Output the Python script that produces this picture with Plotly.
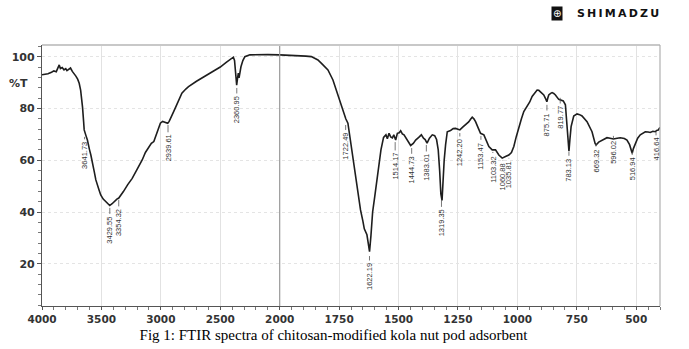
import numpy as np
import plotly.graph_objects as go

# ---------------- data ----------------
wavenumber = [4000, 3950, 3920, 3900, 3880, 3865, 3855, 3845, 3830, 3815, 3800, 3790, 3775, 3760, 3745,
              3730, 3715, 3700, 3687, 3675, 3665, 3659, 3650, 3645, 3630, 3618, 3600, 3589, 3560,
              3547, 3520, 3506, 3485, 3464, 3445, 3430, 3410, 3394, 3370, 3354, 3335, 3315, 3280,
              3241, 3200, 3157, 3130, 3101, 3080, 3059, 3030, 3004, 2985, 2965, 2942, 2930, 2920,
              2900, 2879, 2850, 2823, 2790, 2767, 2700, 2655, 2600, 2544, 2500, 2450, 2404, 2390,
              2380, 2370, 2362, 2355, 2348, 2342, 2336, 2326, 2310, 2293, 2251, 2200, 2100, 2000,
              1950, 1909, 1890, 1867, 1850, 1839, 1820, 1797, 1776, 1765, 1755, 1745, 1734, 1722,
              1713, 1708, 1700, 1685, 1679, 1671, 1660, 1650, 1644, 1633, 1628, 1622, 1616, 1609,
              1600, 1588, 1581, 1574, 1563, 1553, 1547, 1540, 1533, 1526, 1520, 1512, 1505,
              1497, 1491, 1484, 1477, 1465, 1449, 1438, 1428, 1415, 1404, 1395, 1388, 1380, 1370,
              1358, 1348, 1340, 1333, 1327, 1322, 1317, 1313, 1308, 1302, 1295, 1281, 1270, 1260,
              1248, 1242, 1230, 1218, 1205, 1197, 1190, 1183, 1176, 1165, 1155, 1141, 1130, 1120,
              1106, 1092, 1078, 1064, 1050, 1036, 1025, 1015, 1005, 994, 983, 973, 959, 948, 938,
              927, 917, 910, 903, 889, 880, 876, 872, 868, 860, 854, 847, 840, 826, 815, 807, 798,
              791, 786, 783, 779, 774, 763, 749, 738, 728, 707, 686, 673, 669, 658, 644, 623, 610,
              596, 580, 567, 550, 539, 528, 520, 517, 512, 504, 494, 483, 462, 450, 441, 430, 420,
              412, 407, 403, 400]
transmittance = [93.0, 93.4, 94.0, 94.5, 94.2, 95.6, 96.8, 95.4, 95.8, 94.9, 95.4, 94.6, 95.2, 95.6, 94.3,
                 93.6, 92.5, 91.3, 89.7, 87.1, 84.0, 80.5, 75.0, 71.7, 69.5, 67.8, 64.0, 62.0, 55.5,
                 52.4, 48.5, 46.6, 45.0, 44.0, 43.0, 42.5, 43.2, 44.0, 45.0, 45.4, 46.5, 47.9, 50.5,
                 53.0, 56.5, 60.1, 63.0, 65.3, 66.5, 67.2, 71.0, 74.3, 75.0, 74.8, 74.3, 75.0, 76.2,
                 78.0, 80.1, 83.5, 85.9, 87.5, 88.4, 90.5, 91.7, 93.2, 94.6, 96.0, 97.8, 99.4, 99.8,
                 98.5, 93.0, 89.0, 91.5, 93.6, 91.8, 93.5, 96.1, 98.5, 100.0, 100.7, 100.8, 100.8, 100.7,
                 100.6, 100.4, 100.2, 100.0, 99.4, 98.7, 97.0, 94.9, 91.0, 88.0, 84.6, 82.0, 79.4, 76.0,
                 74.3, 71.0, 66.6, 57.5, 53.0, 48.5, 40.8, 36.5, 33.5, 31.2, 28.0, 24.7, 31.0, 40.0,
                 46.0, 53.7, 58.0, 64.0, 68.8, 69.8, 68.3, 70.4, 69.0, 68.6, 69.8, 67.8, 70.4,
                 70.6, 71.4, 70.2, 69.8, 68.0, 65.7, 66.5, 67.8, 68.8, 69.8, 68.5, 68.0, 66.6, 68.5,
                 69.8, 69.5, 68.0, 64.0, 56.0, 47.0, 44.5, 52.0, 60.0, 66.0, 71.0, 71.5, 72.2, 72.3,
                 72.0, 71.7, 72.8, 73.6, 74.8, 75.8, 76.6, 76.0, 74.9, 72.5, 70.4, 69.8, 67.5, 65.3,
                 64.0, 64.0, 62.0, 60.8, 61.4, 62.0, 63.0, 65.3, 69.0, 73.0, 76.0, 78.8, 80.7, 82.5, 84.6,
                 86.0, 87.1, 87.0, 86.5, 85.2, 83.5, 82.6, 84.0, 85.2, 85.8, 86.1, 85.8, 85.2, 83.5, 83.0, 82.9, 81.4,
                 73.0, 67.0, 63.5, 68.0, 73.0, 77.1, 77.9, 77.6, 77.1, 74.9, 71.0, 66.5, 65.9, 67.0, 67.8, 68.7, 68.5,
                 68.2, 68.5, 68.7, 68.4, 67.8, 66.0, 63.0, 62.7, 64.5, 66.6, 68.5, 69.8, 71.0, 70.9, 70.7, 71.2, 71.0,
                 71.6, 71.7, 72.3, 72.7]

peak_labels = ["3641.73", "3429.55", "3354.32", "2939.61", "2360.95", "1722.49", "1622.19",
               "1514.17", "1444.73", "1383.01", "1319.35", "1242.20", "1153.47", "1103.32",
               "1060.88", "1035.81", "875.71", "819.77", "783.13", "669.32", "596.02",
               "516.94", "416.64"]

x_tick_labels = ["4000", "3500", "3000", "2500", "2000", "1750", "1500", "1250", "1000", "750", "500"]
y_tick_values = [20, 40, 60, 80, 100]

# label placement (layout only): text centre and leader top, in %T
label_text_y = [61.9, 33.1, 36.0, 64.6, 79.6, 65.5, 15.1, 57.6, 56.3, 57.2, 35.8, 63.0, 61.7,
                56.6, 53.7, 54.5, 73.8, 76.5, 56.3, 59.9, 63.0, 56.6, 64.2]
label_lead_top = [69.0, 41.6, 44.7, 73.6, 87.9, 73.6, 23.0, 67.0, 64.7, 65.9, 44.7, 70.5, 69.4,
                  63.2, 60.1, 60.9, 81.4, 84.1, 63.2, 66.3, 69.4, 63.2, 70.9]


def to_axis(w):
    """Shimadzu split scale: 4000-2000 compressed 2x relative to 2000-400."""
    w = np.asarray(w, dtype=float)
    return np.where(w > 2000, 2000 + (w - 2000) / 2.0, w)


xu = to_axis(wavenumber)
tickvals = to_axis([float(t) for t in x_tick_labels])

fig = go.Figure()
fig.add_trace(go.Scatter(x=xu, y=transmittance, mode="lines",
                         line=dict(color="#1e1e1e", width=1.6), hoverinfo="skip",
                         showlegend=False))

anns = []
for lab, ty, ly in zip(peak_labels, label_text_y, label_lead_top):
    u = float(to_axis(float(lab)))
    anns.append(dict(x=u, y=ly, ax=u, ay=ty, xref="x", yref="y", axref="x", ayref="y",
                     text=lab, textangle=-90, showarrow=True, arrowhead=0, arrowwidth=0.8,
                     arrowcolor="#555", standoff=0, startstandoff=1,
                     font=dict(family="Liberation Sans", size=7.5, color="#333")))

PW = 621.0
PH = 261.0


def px_x(p):
    return (p - 39.0) / PW


def px_y(p):
    return (306.0 - p) / PH


# %T label
anns.append(dict(x=px_x(15), y=89.8, xref="paper", yref="y", text="%T", showarrow=False,
                 xanchor="center", yanchor="middle",
                 font=dict(family="DejaVu Sans", size=11, color="#333", weight="bold")))
# logo
anns.append(dict(x=px_x(556.5), y=px_y(13), xref="paper", yref="paper",
                 text="\u2295", showarrow=False, bgcolor="#111", borderpad=1,
                 xanchor="center", yanchor="middle",
                 font=dict(family="DejaVu Sans", size=10, color="white")))
anns.append(dict(x=px_x(618), y=px_y(13), xref="paper", yref="paper",
                 text="\u2009".join("SHIMADZU"), showarrow=False,
                 xanchor="center", yanchor="middle",
                 font=dict(family="DejaVu Sans", size=11, color="#111", weight="bold")))

fig.update_layout(
    width=689, height=349,
    margin=dict(l=39, r=29, t=45, b=43),
    paper_bgcolor="white", plot_bgcolor="white",
    title=dict(text="Fig 1: FTIR spectra of chitosan-modified kola nut pod adsorbent",
               x=333.5 / 689, y=1 - 335 / 349, xref="container", yref="container",
               xanchor="center", yanchor="middle",
               font=dict(family="Liberation Serif", size=15, color="black")),
    annotations=anns,
    shapes=[
        dict(type="line", xref="x", yref="paper", x0=2000, x1=2000, y0=0, y1=1,
             line=dict(color="#9a9a9a", width=1.2)),
        dict(type="line", xref="paper", yref="paper", x0=0, x1=1, y0=1, y1=1,
             line=dict(color="#c8c8c8", width=2)),
        dict(type="line", xref="paper", yref="paper", x0=1, x1=1, y0=0, y1=1,
             line=dict(color="#b0b0b0", width=1.2)),
    ],
)

fig.update_xaxes(range=[3000, 400], tickvals=tickvals, ticktext=x_tick_labels,
                 showgrid=True, gridcolor="#e2e2e2", gridwidth=1,
                 showline=True, linecolor="#555", linewidth=1.2,
                 ticks="outside", ticklen=3, tickcolor="#555",
                 minor=dict(dtick=50, tick0=0, ticks="outside", ticklen=3, tickcolor="#777",
                            showgrid=False),
                 tickfont=dict(family="DejaVu Sans", size=10.5, color="#333", weight="bold"),
                 zeroline=False)
fig.update_yaxes(range=[3.7, 104.5], tickvals=y_tick_values,
                 showgrid=True, gridcolor="#e4e4e4", griddash="dot", gridwidth=1,
                 showline=True, linecolor="#555", linewidth=1.2,
                 ticks="outside", ticklen=4, tickcolor="#555",
                 minor=dict(dtick=4, tick0=0, ticks="outside", ticklen=3, tickcolor="#777",
                            showgrid=False),
                 tickfont=dict(family="DejaVu Sans", size=11, color="#333", weight="bold"),
                 zeroline=False)

fig.write_html("out.html")
